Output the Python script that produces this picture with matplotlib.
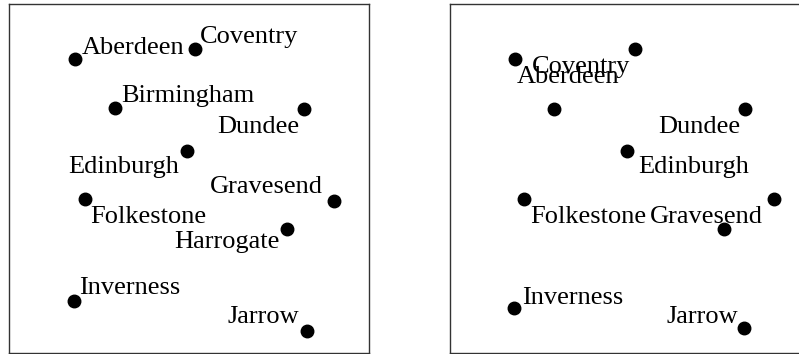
import matplotlib.pyplot as plt

# city names shared by both panels
cities = ['Aberdeen', 'Coventry', 'Birmingham', 'Dundee', 'Edinburgh',
          'Gravesend', 'Folkestone', 'Harrogate', 'Inverness', 'Jarrow']

# left panel: point positions
x_left = [0.183, 0.516, 0.294, 0.819, 0.493, 0.902, 0.210, 0.771, 0.180, 0.828]
y_left = [0.842, 0.871, 0.701, 0.699, 0.579, 0.436, 0.441, 0.356, 0.149, 0.063]

# right panel: point positions
x_right = [0.181, 0.515, 0.291, 0.820, 0.492, 0.901, 0.207, 0.762, 0.179, 0.818]
y_right = [0.842, 0.871, 0.699, 0.699, 0.579, 0.442, 0.441, 0.356, 0.128, 0.071]

# label placement (offset in pixels from point, text anchor); None = label dropped
place_left = [(6.7, 5.3, 'left'), (5, 5.7, 'left'), (6, 6, 'left'),
              (-5, -24.3, 'right'), (-7.7, -22.3, 'right'), (-10.7, 7.7, 'right'),
              (5.7, -24.3, 'left'), (-7.4, -19.6, 'right'), (5.3, 7, 'left'),
              (-8, 7.7, 'right')]
place_right = [(1.7, -23.4, 'left'), (-5, -23.7, 'right'), None,
               (-5, -24.3, 'right'), (11.6, -22.3, 'left'), (-10.7, -24.6, 'right'),
               (6.4, -24.3, 'left'), None, (7.7, 4.3, 'left'),
               (-6, 5, 'right')]

plt.rcParams['font.family'] = ['Liberation Serif', 'DejaVu Serif']

fig = plt.figure(figsize=(7.99, 3.54), dpi=100)


def draw_panel(rect, xs, ys, placement):
    ax = fig.add_axes(rect)
    ax.set_xlim(0, 1)
    ax.set_ylim(0, 1)
    ax.set_xticks([])
    ax.set_yticks([])
    for sp in ax.spines.values():
        sp.set_color('#333333')
        sp.set_linewidth(1.0)
    ax.plot(xs, ys, 'o', color='black', markersize=9, linestyle='none')
    for name, x, y, pl in zip(cities, xs, ys, placement):
        if pl is None:
            continue
        dx, dy, ha = pl
        ax.annotate(name, (x, y), xytext=(dx, dy), textcoords='offset pixels',
                    ha=ha, va='baseline', fontsize=19, color='black')
    return ax


W, H = 799, 354
draw_panel([9.3 / W, 1 / H, 360 / W, 349 / H], x_left, y_left, place_left)
draw_panel([449.7 / W, 1 / H, 360 / W, 349 / H], x_right, y_right, place_right)

fig.savefig('out.png', dpi=100)
